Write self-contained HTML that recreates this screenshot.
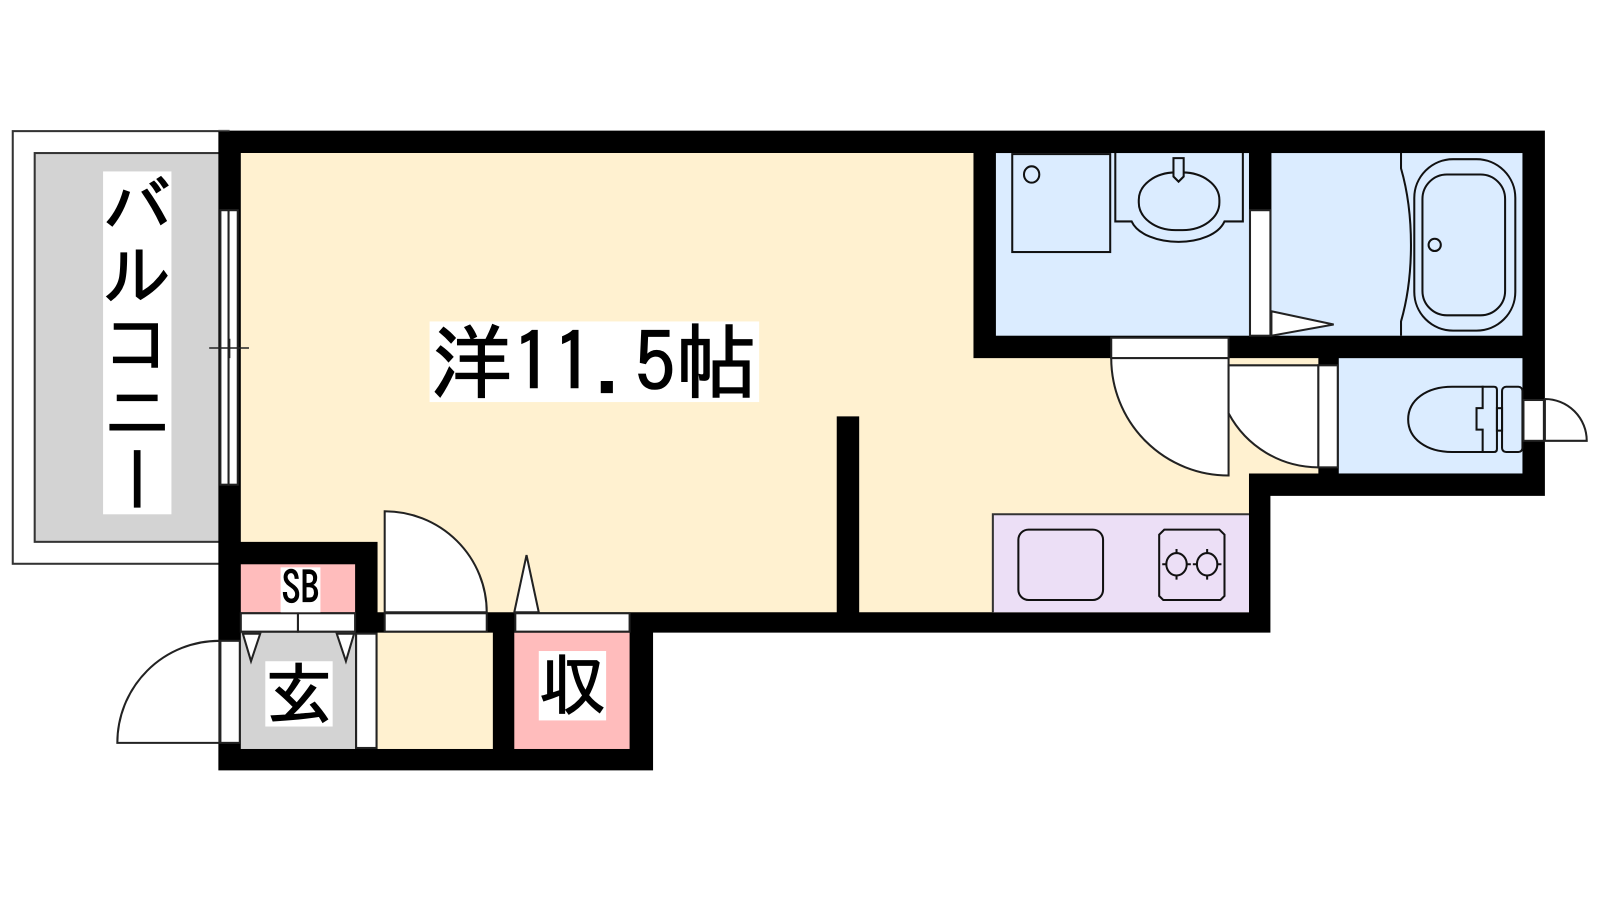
<!DOCTYPE html>
<html><head><meta charset="utf-8"><style>
html,body{margin:0;padding:0;background:#fff;width:1600px;height:900px;overflow:hidden}
svg{display:block}
text{font-family:"IPAGothic","Noto Sans CJK JP",sans-serif;fill:#000;stroke:#000;stroke-width:1.2px}
</style></head><body>
<svg width="1600" height="900" viewBox="0 0 1568 882" xmlns="http://www.w3.org/2000/svg">
<rect width="1568" height="882" fill="#fff"/>
<!-- balcony -->
<rect x="12.5" y="128.5" width="205" height="424" fill="#fff" stroke="#333" stroke-width="2"/>
<rect x="34" y="150" width="184" height="381" fill="#d3d3d3" stroke="#333" stroke-width="2"/>
<!-- walls -->
<polygon points="214,128 1514,128 1514,486 1245,486 1245,620 640,620 640,755 214,755" fill="#000"/>
<path d="M214 128H225" stroke="#555" stroke-width="1.500"/>
<!-- rooms -->
<polygon points="236,150 954,150 954,351 1292,351 1292,464 1224,464 1224,600 842,600 842,408 820,408 820,600 370,600 370,531 236,531" fill="#fff1d0"/>
<rect x="370" y="620" width="113" height="114" fill="#fff1d0"/>
<rect x="976" y="150" width="248" height="179" fill="#dbecff"/>
<rect x="1246" y="150" width="246" height="179" fill="#dbecff"/>
<rect x="1312" y="351" width="180" height="113" fill="#dbecff"/>
<rect x="236" y="553" width="112" height="47" fill="#ffbcbc"/>
<rect x="504" y="620" width="113" height="114" fill="#ffbcbc"/>
<rect x="236" y="620" width="112" height="114" fill="#d3d3d3"/>
<rect x="973" y="504" width="251" height="96" fill="#ecdff6"/>
<path d="M973 600V504H1224" fill="none" stroke="#333" stroke-width="2"/>
<g fill="none" stroke="#111" stroke-width="2">
<!-- kitchen -->
<rect x="998" y="519" width="83" height="69" rx="10"/>
<path d="M1141 519H1195L1200 524V584L1196 588H1140L1136 584V524Z"/>
<ellipse cx="1153" cy="553" rx="10" ry="11"/><ellipse cx="1183" cy="553" rx="10" ry="11"/>
<path d="M1139 553h4M1163 553h4M1153 538v4M1153 564v4M1169 553h4M1193 553h4M1183 538v4M1183 564v4"/>
<!-- washroom -->
<rect x="992" y="151" width="96" height="96"/>
<ellipse cx="1011" cy="171" rx="7.500" ry="8"/>
<path d="M1093 150V217H1109C1115 230 1135 237 1155 237C1175 237 1194 230 1200 217H1218V150"/>
<rect x="1116" y="169" width="79" height="56.500" rx="36" ry="27"/>
<path d="M1150 155H1160V173L1155 178L1150 173Z" fill="#dbecff"/>
<!-- bath -->
<path d="M1373 150V165C1386 210 1386 270 1373 315V329"/>
<rect x="1386" y="156" width="99" height="168" rx="38" ry="38"/>
<rect x="1394" y="171" width="81" height="138" rx="24" ry="24"/>
<circle cx="1406" cy="240" r="6"/>
<!-- toilet -->
<path d="M1464 379H1423C1398 379 1380 392 1380 411C1380 430 1398 443 1423 443H1464C1466 443 1467 442 1467 440V382C1467 380 1466 379 1464 379Z"/>
<path d="M1453 378V400H1447V421H1453V444"/>
<rect x="1467" y="400" width="5" height="22"/>
<rect x="1472" y="379" width="20" height="64" rx="4"/>
</g>
<g fill="#fff" stroke="#222" stroke-width="2">
<!-- bath door -->
<rect x="1225" y="206" width="20" height="123"/>
<polygon points="1246,305 1307,318 1246,329"/>
<!-- washroom door -->
<rect x="1089" y="331" width="115" height="20"/>
<path d="M1089 351A115 115 0 0 0 1204 466V351Z"/>
<!-- toilet door -->
<path d="M1204 358H1292V458A100 100 0 0 1 1204 405Z"/>
<rect x="1292" y="358" width="19" height="100"/>
<!-- right small door -->
<rect x="1493" y="392" width="20" height="40"/>
<path d="M1514 391A41 41 0 0 1 1555 432H1514Z"/>
<!-- room door -->
<rect x="377" y="601" width="100" height="18"/>
<path d="M377 600V501A100 99 0 0 1 477 600Z"/>
<!-- closet door -->
<rect x="505" y="601" width="112" height="18"/>
<polygon points="504,600 516,544 528,600"/>
<!-- sb door -->
<rect x="236" y="601" width="56" height="18"/>
<rect x="292" y="601" width="56" height="18"/>
<polygon points="238,621 246,648 255,621"/>
<polygon points="330,621 339,648 347,621"/>
<!-- inner door -->
<rect x="349" y="621" width="20" height="112"/>
<!-- entrance -->
<path d="M215 628V728H115A100 100 0 0 1 215 628Z"/>
<rect x="216" y="628" width="19" height="100"/>
<!-- window -->
<rect x="216" y="206" width="8" height="269"/>
<rect x="224" y="206" width="9" height="269"/>
</g>
<path d="M205 341H244M225 332V351" stroke="#222" stroke-width="1.500" fill="none"/>
<!-- labels -->
<rect x="101" y="168" width="67" height="336" fill="#fff"/>
<text x="134.500" y="168" font-size="67" style="writing-mode:vertical-rl">バルコニー</text>
<rect x="421" y="315" width="323" height="79" fill="#fff"/>
<text x="422" y="384" font-size="80">洋11.5帖</text>
<rect x="275" y="556" width="39" height="44" fill="#fff"/>
<text x="276" y="592" font-size="44" textLength="37" lengthAdjust="spacingAndGlyphs">SB</text>
<rect x="260" y="648" width="66" height="64" fill="#fff"/>
<text x="260" y="704" font-size="66">玄</text>
<rect x="528" y="638" width="66" height="68" fill="#fff"/>
<text x="528" y="695" font-size="66">収</text>
</svg>
</body></html>
